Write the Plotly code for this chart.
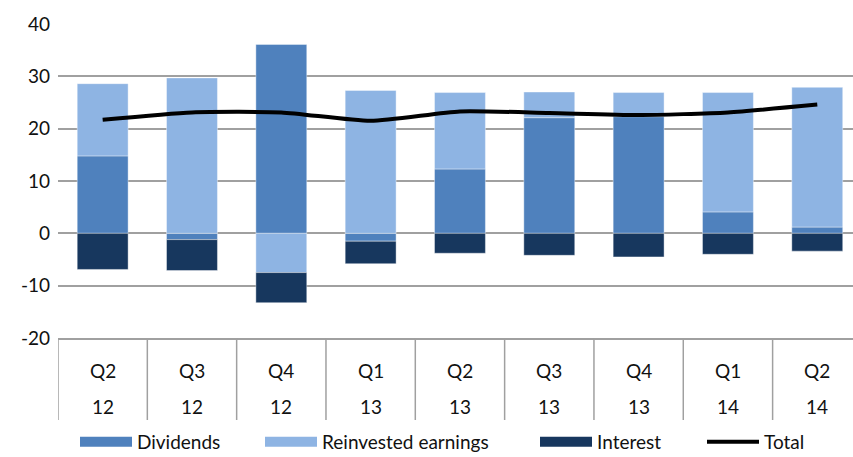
import plotly.graph_objects as go

quarters = ["Q2", "Q3", "Q4", "Q1", "Q2", "Q3", "Q4", "Q1", "Q2"]
years = ["12", "12", "12", "13", "13", "13", "13", "14", "14"]
categories = [f"{q} {y}" for q, y in zip(quarters, years)]

dividends = [14.8, -1.2, 36.1, -1.5, 12.3, 22.1, 22.3, 4.1, 1.2]
reinvested = [13.8, 29.7, -7.5, 27.3, 14.6, 4.9, 4.6, 22.8, 26.7]
interest = [-6.9, -5.9, -5.75, -4.3, -3.8, -4.2, -4.5, -4.0, -3.4]
total = [21.7, 23.1, 23.1, 21.5, 23.3, 23.0, 22.6, 23.1, 24.6]

y_ticks = [-20, -10, 0, 10, 20, 30, 40]

C_DIV = "#4F81BD"
C_REI = "#8EB4E3"
C_INT = "#17375E"
GRID = "#A0A0A0"
FONT = "Lato"
FS = 19

W, H = 853, 457
plot_left, plot_top, plot_bottom = 58, 24, 338
ph = plot_bottom - plot_top
pw = W - plot_left

def py(pix):
    return (plot_bottom - pix) / ph

def px(pix):
    return (pix - plot_left) / pw

fig = go.Figure()
for name, vals, col in [("Dividends", dividends, C_DIV),
                        ("Reinvested earnings", reinvested, C_REI),
                        ("Interest", interest, C_INT)]:
    fig.add_trace(go.Bar(x=categories, y=vals, name=name, marker_color=col,
                         marker_line=dict(color="rgba(255,255,255,0.5)", width=0.8),
                         showlegend=False, legendgroup=name))

fig.add_trace(go.Scatter(x=categories, y=total, name="Total", mode="lines",
                         line=dict(color="black", width=4, shape="spline", smoothing=0.6),
                         showlegend=False, legendgroup="Total"))

# legend entries (wide swatches like the original), one legend per entry
legend_items = [("Dividends", C_DIV, 10, "legend", 81),
                ("Reinvested earnings", C_REI, 10, "legend2", 266),
                ("Interest", C_INT, 10, "legend3", 541),
                ("Total", "black", 4, "legend4", 708)]
legend_layout = {}
for name, col, w, lg, xpix in legend_items:
    fig.add_trace(go.Scatter(x=[None], y=[None], mode="lines", name=name,
                             line=dict(color=col, width=w), legendgroup=name,
                             legend=lg, showlegend=True))
    legend_layout[lg] = dict(orientation="h", x=px(xpix - 6), xanchor="left",
                             y=py(442), yanchor="middle",
                             font=dict(family=FONT, size=FS, color="#111"),
                             itemwidth=52, bgcolor="rgba(0,0,0,0)",
                             borderwidth=0)

shapes = []
for i in range(len(categories)):
    shapes.append(dict(type="line", xref="x", yref="paper", x0=i - 0.5, x1=i - 0.5,
                       y0=0, y1=py(420), line=dict(color=GRID, width=1.5)))

annotations = []
for i, (q, y) in enumerate(zip(quarters, years)):
    annotations.append(dict(x=categories[i], y=py(370), xref="x", yref="paper", text=q,
                            showarrow=False, yanchor="middle",
                            font=dict(family=FONT, size=FS, color="#111")))
    annotations.append(dict(x=categories[i], y=py(406), xref="x", yref="paper", text=y,
                            showarrow=False, yanchor="middle",
                            font=dict(family=FONT, size=FS, color="#111")))

fig.update_layout(
    width=W, height=H,
    margin=dict(l=plot_left, r=0, t=plot_top, b=H - plot_bottom, pad=0, autoexpand=False),
    paper_bgcolor="white", plot_bgcolor="white",
    barmode="relative", bargap=0.43,
    font=dict(family=FONT, size=FS, color="#111"),
    shapes=shapes, annotations=annotations,
    **legend_layout,
    xaxis=dict(type="category", range=[-0.5, 8.4], showticklabels=False,
               showgrid=False, showline=True, linecolor=GRID, linewidth=1.5,
               ticks="", zeroline=False, automargin=False),
    yaxis=dict(range=[-20, 40], tickvals=y_ticks, ticktext=[str(v) for v in y_ticks],
               showgrid=True, gridcolor=GRID, gridwidth=1.5, zeroline=True,
               zerolinecolor=GRID, zerolinewidth=1.5, showline=False, ticks="",
               ticklabelstandoff=7, automargin=False,
               tickfont=dict(family=FONT, size=FS, color="#111")),
)

fig.write_html("out.html", config={"displayModeBar": False},
               post_script="document.body.style.margin='0';document.body.style.overflow='hidden';")
